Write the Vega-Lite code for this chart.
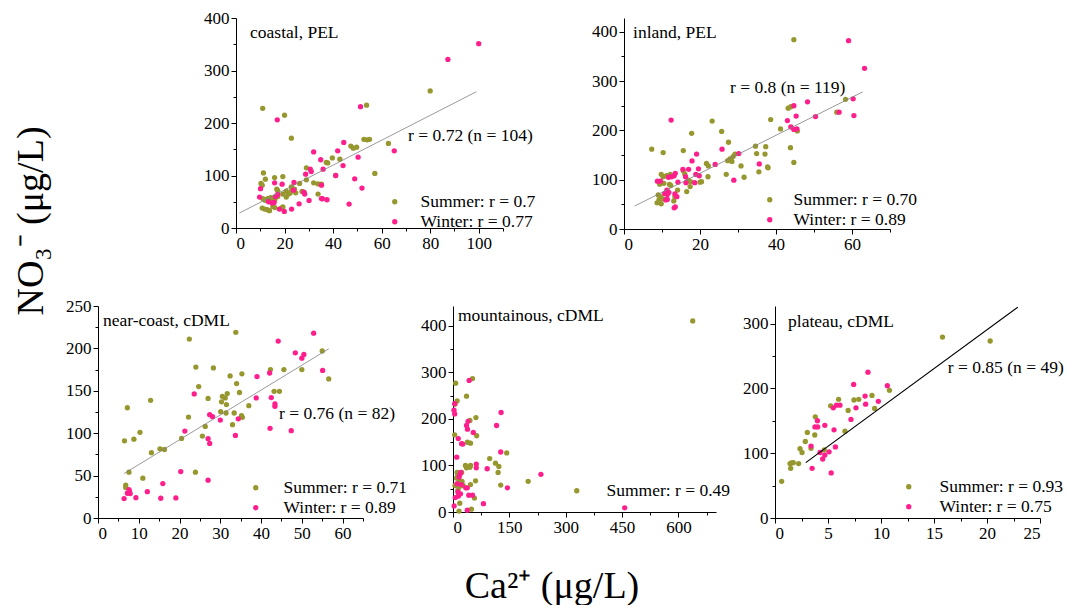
{
  "$schema": "https://vega.github.io/schema/vega-lite/v6.json",
  "padding": {"left": 12, "top": 9, "right": 0, "bottom": 0},
  "title": {"text": "NO₃⁻ (μg/L)", "orient": "left", "anchor": "middle", "font": "Liberation Serif", "fontSize": 38, "fontWeight": "normal", "color": "#000", "offset": 15, "dx": 86},
  "config": {
    "view": {"stroke": null},
    "font": "Liberation Serif",
    "axis": {"domainColor": "#000", "domainWidth": 1, "tickColor": "#000", "tickWidth": 1, "labelColor": "#000", "labelFont": "Liberation Serif", "labelFontSize": 17, "labelPadding": 2, "grid": false, "labelOverlap": false, "titleFont": "Liberation Serif", "titleFontWeight": "normal", "titleColor": "#000"},
    "legend": {"labelFont": "Liberation Serif", "labelFontSize": 17.5, "labelColor": "#000", "symbolType": "circle", "symbolSize": 28, "symbolStrokeWidth": 0, "rowPadding": 1, "padding": 0},
    "text": {"font": "Liberation Serif", "fontSize": 17.5, "color": "#000", "align": "left", "baseline": "middle"}
  },
  "datasets": {
    "coastal": [
      {"season":"Summer","ca":11,"no3":228},{"season":"Summer","ca":20,"no3":215},{"season":"Summer","ca":22.8,"no3":171},{"season":"Summer","ca":80,"no3":261},{"season":"Summer","ca":53.8,"no3":234},{"season":"Summer","ca":52.7,"no3":169},{"season":"Summer","ca":54,"no3":168},{"season":"Summer","ca":55,"no3":169},{"season":"Summer","ca":62.8,"no3":161},{"season":"Summer","ca":47.3,"no3":156},{"season":"Summer","ca":48.3,"no3":152},{"season":"Summer","ca":49.7,"no3":154},{"season":"Summer","ca":39.7,"no3":133.5},{"season":"Summer","ca":42.8,"no3":131},{"season":"Summer","ca":37.2,"no3":125},{"season":"Summer","ca":37.8,"no3":124},{"season":"Summer","ca":29,"no3":114.6},{"season":"Summer","ca":57.2,"no3":104},{"season":"Summer","ca":41,"no3":100},{"season":"Summer","ca":33.8,"no3":84},{"season":"Summer","ca":35.2,"no3":83.5},{"season":"Summer","ca":32,"no3":86},{"season":"Summer","ca":33.8,"no3":64.6},{"season":"Summer","ca":29,"no3":91.8},{"season":"Summer","ca":26.2,"no3":85},{"season":"Summer","ca":11.3,"no3":105},{"season":"Summer","ca":12.1,"no3":93},{"season":"Summer","ca":10.3,"no3":85},{"season":"Summer","ca":10.8,"no3":81.6},{"season":"Summer","ca":15.9,"no3":96},{"season":"Summer","ca":19.3,"no3":98},{"season":"Summer","ca":16.8,"no3":74},{"season":"Summer","ca":17.2,"no3":71},{"season":"Summer","ca":20.7,"no3":70},{"season":"Summer","ca":21.6,"no3":64.6},{"season":"Summer","ca":22.3,"no3":66.5},{"season":"Summer","ca":22.9,"no3":71.5},{"season":"Summer","ca":24.1,"no3":74},{"season":"Summer","ca":22.8,"no3":78.5},{"season":"Summer","ca":19.3,"no3":64.6},{"season":"Summer","ca":20.7,"no3":59},{"season":"Summer","ca":24.6,"no3":67},{"season":"Summer","ca":27.2,"no3":69.6},{"season":"Summer","ca":28.1,"no3":67.7},{"season":"Summer","ca":11,"no3":56},{"season":"Summer","ca":12,"no3":53},{"season":"Summer","ca":13,"no3":55},{"season":"Summer","ca":14,"no3":54},{"season":"Summer","ca":15,"no3":57},{"season":"Summer","ca":15.7,"no3":58},{"season":"Summer","ca":14.2,"no3":58},{"season":"Summer","ca":13.1,"no3":56},{"season":"Summer","ca":12.4,"no3":53.5},{"season":"Summer","ca":10.8,"no3":38},{"season":"Summer","ca":11.8,"no3":36},{"season":"Summer","ca":12.9,"no3":35},{"season":"Summer","ca":13.8,"no3":33},{"season":"Summer","ca":15.2,"no3":41},{"season":"Summer","ca":16,"no3":39},{"season":"Summer","ca":18.6,"no3":38},{"season":"Summer","ca":19.3,"no3":40},{"season":"Summer","ca":16,"no3":54},{"season":"Summer","ca":17.2,"no3":60},
      {"season":"Winter","ca":100,"no3":351},{"season":"Winter","ca":87.3,"no3":321},{"season":"Winter","ca":51.3,"no3":231},{"season":"Winter","ca":17,"no3":206},{"season":"Winter","ca":65.2,"no3":147},{"season":"Winter","ca":44.4,"no3":163},{"season":"Winter","ca":41.9,"no3":147},{"season":"Winter","ca":32,"no3":145},{"season":"Winter","ca":50.3,"no3":135},{"season":"Winter","ca":44.1,"no3":119},{"season":"Winter","ca":34.9,"no3":130},{"season":"Winter","ca":30.6,"no3":112},{"season":"Winter","ca":31,"no3":107.6},{"season":"Winter","ca":28.7,"no3":102.5},{"season":"Winter","ca":35.9,"no3":112},{"season":"Winter","ca":41.1,"no3":100},{"season":"Winter","ca":48.9,"no3":93.7},{"season":"Winter","ca":51.9,"no3":76},{"season":"Winter","ca":46.6,"no3":45.6},{"season":"Winter","ca":37.5,"no3":53.8},{"season":"Winter","ca":35.2,"no3":56},{"season":"Winter","ca":35.6,"no3":55.7},{"season":"Winter","ca":30.1,"no3":52.5},{"season":"Winter","ca":26,"no3":46},{"season":"Winter","ca":22.9,"no3":36},{"season":"Winter","ca":19.9,"no3":31.6},{"season":"Winter","ca":17.9,"no3":36},{"season":"Winter","ca":15.7,"no3":48.7},{"season":"Winter","ca":13.4,"no3":50},{"season":"Winter","ca":14.9,"no3":47.5},{"season":"Winter","ca":9.7,"no3":58.9},{"season":"Winter","ca":10.1,"no3":75},{"season":"Winter","ca":15.9,"no3":86},{"season":"Winter","ca":19,"no3":83.5},{"season":"Winter","ca":23.9,"no3":86.7},{"season":"Winter","ca":17.2,"no3":64},{"season":"Winter","ca":23.7,"no3":72},{"season":"Winter","ca":27.9,"no3":68.4},{"season":"Winter","ca":28.3,"no3":64.6},{"season":"Winter","ca":35.2,"no3":81.6},{"season":"Winter","ca":16.3,"no3":60}
    ],
    "inland": [
      {"season":"Summer","ca":44.7,"no3":384},{"season":"Summer","ca":58.3,"no3":263},{"season":"Summer","ca":56,"no3":237},{"season":"Summer","ca":43.2,"no3":245},{"season":"Summer","ca":43.9,"no3":248},{"season":"Summer","ca":38.6,"no3":222},{"season":"Summer","ca":41.2,"no3":203},{"season":"Summer","ca":45.6,"no3":199},{"season":"Summer","ca":43.8,"no3":165},{"season":"Summer","ca":44.7,"no3":135},{"season":"Summer","ca":37.3,"no3":167},{"season":"Summer","ca":34.6,"no3":168},{"season":"Summer","ca":34.9,"no3":153},{"season":"Summer","ca":37.1,"no3":152},{"season":"Summer","ca":35.5,"no3":116},{"season":"Summer","ca":37.8,"no3":126},{"season":"Summer","ca":37.9,"no3":124},{"season":"Summer","ca":23.2,"no3":219},{"season":"Summer","ca":25.7,"no3":198},{"season":"Summer","ca":17.8,"no3":194},{"season":"Summer","ca":27.5,"no3":176},{"season":"Summer","ca":7.3,"no3":162},{"season":"Summer","ca":10.3,"no3":155},{"season":"Summer","ca":15.6,"no3":159},{"season":"Summer","ca":29.2,"no3":152},{"season":"Summer","ca":28.7,"no3":147},{"season":"Summer","ca":27.3,"no3":138.5},{"season":"Summer","ca":28.4,"no3":137},{"season":"Summer","ca":27.9,"no3":142},{"season":"Summer","ca":30.8,"no3":128},{"season":"Summer","ca":21.7,"no3":133},{"season":"Summer","ca":22.2,"no3":128},{"season":"Summer","ca":31.6,"no3":105},{"season":"Summer","ca":26.9,"no3":111},{"season":"Summer","ca":22.1,"no3":106},{"season":"Summer","ca":20,"no3":95},{"season":"Summer","ca":20.4,"no3":96},{"season":"Summer","ca":15.6,"no3":118},{"season":"Summer","ca":16,"no3":111.5},{"season":"Summer","ca":16.9,"no3":99},{"season":"Summer","ca":17.5,"no3":96},{"season":"Summer","ca":16.5,"no3":76},{"season":"Summer","ca":17.4,"no3":86},{"season":"Summer","ca":14.1,"no3":79},{"season":"Summer","ca":9.8,"no3":111},{"season":"Summer","ca":10.3,"no3":106},{"season":"Summer","ca":11.2,"no3":108},{"season":"Summer","ca":12.2,"no3":111},{"season":"Summer","ca":9.4,"no3":91},{"season":"Summer","ca":10.5,"no3":92.6},{"season":"Summer","ca":12,"no3":90.5},{"season":"Summer","ca":12.3,"no3":88.5},{"season":"Summer","ca":9,"no3":69},{"season":"Summer","ca":9.6,"no3":65.5},{"season":"Summer","ca":10.3,"no3":61},{"season":"Summer","ca":9.2,"no3":59},{"season":"Summer","ca":8.7,"no3":53},{"season":"Summer","ca":9.8,"no3":51},{"season":"Summer","ca":11.2,"no3":76},{"season":"Summer","ca":13.1,"no3":57},{"season":"Summer","ca":13.4,"no3":65.5},
      {"season":"Winter","ca":59.1,"no3":382},{"season":"Winter","ca":63.3,"no3":326},{"season":"Winter","ca":60.3,"no3":264},{"season":"Winter","ca":60.5,"no3":230},{"season":"Winter","ca":56.6,"no3":237},{"season":"Winter","ca":50.4,"no3":228},{"season":"Winter","ca":48.3,"no3":258},{"season":"Winter","ca":44.7,"no3":250},{"season":"Winter","ca":45.3,"no3":229},{"season":"Winter","ca":43,"no3":220},{"season":"Winter","ca":43.9,"no3":207},{"season":"Winter","ca":44.7,"no3":202},{"season":"Winter","ca":45.5,"no3":203},{"season":"Winter","ca":35.6,"no3":132},{"season":"Winter","ca":30.2,"no3":153},{"season":"Winter","ca":25.8,"no3":162},{"season":"Winter","ca":24,"no3":131},{"season":"Winter","ca":28.9,"no3":99},{"season":"Winter","ca":19.1,"no3":152},{"season":"Winter","ca":17.9,"no3":138},{"season":"Winter","ca":12.4,"no3":221},{"season":"Winter","ca":19.6,"no3":122},{"season":"Winter","ca":17,"no3":121},{"season":"Winter","ca":18.9,"no3":111},{"season":"Winter","ca":19.8,"no3":108},{"season":"Winter","ca":15.5,"no3":121},{"season":"Winter","ca":16.2,"no3":106},{"season":"Winter","ca":13.5,"no3":113},{"season":"Winter","ca":13.2,"no3":108},{"season":"Winter","ca":11.7,"no3":105},{"season":"Winter","ca":12.5,"no3":106},{"season":"Winter","ca":8.8,"no3":97},{"season":"Winter","ca":9.6,"no3":97},{"season":"Winter","ca":14.2,"no3":95},{"season":"Winter","ca":16.3,"no3":94},{"season":"Winter","ca":18.6,"no3":94},{"season":"Winter","ca":11.3,"no3":79},{"season":"Winter","ca":11.8,"no3":74},{"season":"Winter","ca":11.4,"no3":60},{"season":"Winter","ca":11,"no3":59},{"season":"Winter","ca":10.7,"no3":72},{"season":"Winter","ca":11.4,"no3":70},{"season":"Winter","ca":13.4,"no3":71},{"season":"Winter","ca":13.9,"no3":65.5},{"season":"Winter","ca":13.5,"no3":45},{"season":"Winter","ca":13.2,"no3":43}
    ],
    "nearcoast": [
      {"season":"Summer","ca":33.8,"no3":219},{"season":"Summer","ca":22.4,"no3":211},{"season":"Summer","ca":55,"no3":197},{"season":"Summer","ca":56.6,"no3":164},{"season":"Summer","ca":50,"no3":175},{"season":"Summer","ca":45.6,"no3":175},{"season":"Summer","ca":42.3,"no3":175},{"season":"Summer","ca":35.3,"no3":170},{"season":"Summer","ca":32.4,"no3":167.6},{"season":"Summer","ca":34,"no3":158.5},{"season":"Summer","ca":28.3,"no3":177},{"season":"Summer","ca":24,"no3":178},{"season":"Summer","ca":24.7,"no3":155},{"season":"Summer","ca":43.2,"no3":149.4},{"season":"Summer","ca":44.5,"no3":149.4},{"season":"Summer","ca":34.7,"no3":148},{"season":"Summer","ca":31.7,"no3":146.7},{"season":"Summer","ca":30.5,"no3":143.5},{"season":"Summer","ca":31.2,"no3":141.6},{"season":"Summer","ca":27,"no3":141},{"season":"Summer","ca":31.5,"no3":133.7},{"season":"Summer","ca":30.3,"no3":137},{"season":"Summer","ca":37,"no3":132.5},{"season":"Summer","ca":30.1,"no3":125.4},{"season":"Summer","ca":31.4,"no3":123.8},{"season":"Summer","ca":33.4,"no3":123.8},{"season":"Summer","ca":35.2,"no3":120.7},{"season":"Summer","ca":35.4,"no3":118.7},{"season":"Summer","ca":33,"no3":110},{"season":"Summer","ca":26.3,"no3":108},{"season":"Summer","ca":22.2,"no3":119},{"season":"Summer","ca":25.6,"no3":96.6},{"season":"Summer","ca":20.5,"no3":93.8},{"season":"Summer","ca":12.9,"no3":138.8},{"season":"Summer","ca":7.2,"no3":130},{"season":"Summer","ca":10.3,"no3":101},{"season":"Summer","ca":8.8,"no3":93},{"season":"Summer","ca":6.5,"no3":91},{"season":"Summer","ca":13.1,"no3":77},{"season":"Summer","ca":15.2,"no3":81.6},{"season":"Summer","ca":16.3,"no3":80.8},{"season":"Summer","ca":7.6,"no3":54},{"season":"Summer","ca":11,"no3":47},{"season":"Summer","ca":23.9,"no3":54},{"season":"Summer","ca":6.8,"no3":38.6},{"season":"Summer","ca":6.8,"no3":35.9},
      {"season":"Winter","ca":52.9,"no3":218},{"season":"Winter","ca":44.2,"no3":208.6},{"season":"Winter","ca":48.4,"no3":194.8},{"season":"Winter","ca":50.5,"no3":192.8},{"season":"Winter","ca":50,"no3":188.5},{"season":"Winter","ca":55.1,"no3":174},{"season":"Winter","ca":42.1,"no3":171},{"season":"Winter","ca":39,"no3":166.8},{"season":"Winter","ca":42.5,"no3":142},{"season":"Winter","ca":38.8,"no3":141.6},{"season":"Winter","ca":43.4,"no3":134.5},{"season":"Winter","ca":43.4,"no3":131.7},{"season":"Winter","ca":23.6,"no3":146.3},{"season":"Winter","ca":27.4,"no3":121.8},{"season":"Winter","ca":28.1,"no3":119.5},{"season":"Winter","ca":30,"no3":115.5},{"season":"Winter","ca":34.4,"no3":117},{"season":"Winter","ca":42.2,"no3":105.7},{"season":"Winter","ca":47.4,"no3":103},{"season":"Winter","ca":21.3,"no3":102.5},{"season":"Winter","ca":33.7,"no3":97.4},{"season":"Winter","ca":27,"no3":93.5},{"season":"Winter","ca":27.4,"no3":88},{"season":"Winter","ca":20.3,"no3":54.8},{"season":"Winter","ca":27,"no3":44.6},{"season":"Winter","ca":15.9,"no3":40.6},{"season":"Winter","ca":12.1,"no3":31},{"season":"Winter","ca":7.6,"no3":33.5},{"season":"Winter","ca":7.7,"no3":31.5},{"season":"Winter","ca":7.9,"no3":28.8},{"season":"Winter","ca":7.2,"no3":29.2},{"season":"Winter","ca":6.4,"no3":22.9},{"season":"Winter","ca":9.3,"no3":24},{"season":"Winter","ca":15.4,"no3":23.3},{"season":"Winter","ca":19.1,"no3":23.7}
    ],
    "mountain": [
      {"season":"Summer","ca":638,"no3":411},{"season":"Summer","ca":200,"no3":66},{"season":"Summer","ca":143,"no3":127},{"season":"Summer","ca":97.6,"no3":115},{"season":"Summer","ca":113,"no3":105},{"season":"Summer","ca":122,"no3":98},{"season":"Summer","ca":120,"no3":85},{"season":"Summer","ca":127,"no3":58},{"season":"Summer","ca":7,"no3":277},{"season":"Summer","ca":11,"no3":239},{"season":"Summer","ca":5.4,"no3":232},{"season":"Summer","ca":52,"no3":287},{"season":"Summer","ca":36,"no3":249},{"season":"Summer","ca":61,"no3":203},{"season":"Summer","ca":45,"no3":197},{"season":"Summer","ca":63,"no3":164},{"season":"Summer","ca":4.5,"no3":166},{"season":"Summer","ca":38.5,"no3":150},{"season":"Summer","ca":46.6,"no3":148},{"season":"Summer","ca":33,"no3":100},{"season":"Summer","ca":46.6,"no3":100},{"season":"Summer","ca":45,"no3":96},{"season":"Summer","ca":36,"no3":95},{"season":"Summer","ca":60,"no3":67},{"season":"Summer","ca":46.6,"no3":59},{"season":"Summer","ca":57,"no3":30},{"season":"Summer","ca":18,"no3":19},{"season":"Summer","ca":16,"no3":2},{"season":"Summer","ca":49,"no3":6},{"season":"Summer","ca":9,"no3":73},{"season":"Summer","ca":13,"no3":79},{"season":"Summer","ca":11,"no3":85},{"season":"Summer","ca":16,"no3":70},{"season":"Summer","ca":24,"no3":66},{"season":"Summer","ca":20,"no3":61},{"season":"Summer","ca":16,"no3":54},{"season":"Summer","ca":13,"no3":46.6},{"season":"Summer","ca":5.4,"no3":57},{"season":"Summer","ca":23,"no3":85},{"season":"Summer","ca":27,"no3":57},
      {"season":"Winter","ca":457,"no3":9},{"season":"Winter","ca":234,"no3":81},{"season":"Winter","ca":128,"no3":214},{"season":"Winter","ca":116,"no3":186},{"season":"Winter","ca":127,"no3":129},{"season":"Winter","ca":145,"no3":52},{"season":"Winter","ca":91,"no3":93},{"season":"Winter","ca":81,"no3":18},{"season":"Winter","ca":43,"no3":283},{"season":"Winter","ca":4.5,"no3":233},{"season":"Winter","ca":2.7,"no3":219},{"season":"Winter","ca":4.5,"no3":211},{"season":"Winter","ca":14,"no3":158},{"season":"Winter","ca":10,"no3":118},{"season":"Winter","ca":23,"no3":147},{"season":"Winter","ca":26,"no3":146},{"season":"Winter","ca":36,"no3":186},{"season":"Winter","ca":40,"no3":195},{"season":"Winter","ca":38.5,"no3":178},{"season":"Winter","ca":54,"no3":171},{"season":"Winter","ca":62,"no3":103},{"season":"Winter","ca":62,"no3":95},{"season":"Winter","ca":18,"no3":80},{"season":"Winter","ca":20.6,"no3":85},{"season":"Winter","ca":22,"no3":59},{"season":"Winter","ca":34,"no3":52},{"season":"Winter","ca":38,"no3":52},{"season":"Winter","ca":42,"no3":36},{"season":"Winter","ca":52,"no3":36},{"season":"Winter","ca":13,"no3":43},{"season":"Winter","ca":6,"no3":31},{"season":"Winter","ca":3,"no3":13},{"season":"Winter","ca":14,"no3":34},{"season":"Winter","ca":20,"no3":39},{"season":"Winter","ca":38,"no3":4},{"season":"Winter","ca":11,"no3":61},{"season":"Winter","ca":16,"no3":75}
    ],
    "plateau": [
      {"season":"Summer","ca":15.8,"no3":279},{"season":"Summer","ca":20.3,"no3":273},{"season":"Summer","ca":10.8,"no3":197},{"season":"Summer","ca":9.15,"no3":189},{"season":"Summer","ca":9.4,"no3":169},{"season":"Summer","ca":7.45,"no3":182},{"season":"Summer","ca":7.9,"no3":183},{"season":"Summer","ca":6,"no3":183},{"season":"Summer","ca":5.25,"no3":173},{"season":"Summer","ca":6.9,"no3":166},{"season":"Summer","ca":6.6,"no3":134},{"season":"Summer","ca":3.8,"no3":156},{"season":"Summer","ca":3.75,"no3":128},{"season":"Summer","ca":3.05,"no3":132},{"season":"Summer","ca":2.86,"no3":118},{"season":"Summer","ca":2.36,"no3":107},{"season":"Summer","ca":2.55,"no3":101},{"season":"Summer","ca":3.4,"no3":107.6},{"season":"Summer","ca":4.65,"no3":105},{"season":"Summer","ca":2.23,"no3":84},{"season":"Summer","ca":1.42,"no3":84},{"season":"Summer","ca":1.54,"no3":85},{"season":"Summer","ca":1.73,"no3":85.4},{"season":"Summer","ca":1.48,"no3":76.7},{"season":"Summer","ca":0.63,"no3":56.6},
      {"season":"Winter","ca":8.77,"no3":225},{"season":"Winter","ca":7.42,"no3":206},{"season":"Winter","ca":10.6,"no3":204},{"season":"Winter","ca":9.75,"no3":180},{"season":"Winter","ca":8.5,"no3":188},{"season":"Winter","ca":8.55,"no3":175.5},{"season":"Winter","ca":7.64,"no3":170},{"season":"Winter","ca":7.17,"no3":152},{"season":"Winter","ca":5.8,"no3":174},{"season":"Winter","ca":6.13,"no3":174},{"season":"Winter","ca":5.5,"no3":170},{"season":"Winter","ca":4,"no3":150},{"season":"Winter","ca":3.77,"no3":140.5},{"season":"Winter","ca":4.03,"no3":140.5},{"season":"Winter","ca":4.7,"no3":143},{"season":"Winter","ca":5.57,"no3":136},{"season":"Winter","ca":3.4,"no3":111},{"season":"Winter","ca":5.7,"no3":109.6},{"season":"Winter","ca":4.25,"no3":101},{"season":"Winter","ca":4.7,"no3":97},{"season":"Winter","ca":5.1,"no3":102},{"season":"Winter","ca":4.5,"no3":91},{"season":"Winter","ca":3.5,"no3":76.7},{"season":"Winter","ca":5.3,"no3":69.5}
    ]
  },
  "spacing": 45,
  "resolve": {"scale": {"color": "independent"}, "legend": {"color": "independent"}},
  "vconcat": [
    {
      "bounds": "flush",
      "spacing": 0,
      "resolve": {"scale": {"color": "independent"}, "legend": {"color": "independent"}},
      "hconcat": [
        {"width": 138, "height": 10, "data": {"values": []}, "mark": "point"},
        {
          "width": 267, "height": 210,
          "encoding": {
            "x": {"field": "ca", "type": "quantitative", "title": null, "scale": {"domain": [0, 110], "nice": false, "zero": false}, "axis": {"values": [0,10,20,30,40,50,60,70,80,90,100,110], "labelExpr": "datum.value % 20 === 0 ? datum.label : ''", "tickSize": {"condition": {"test": "datum.value % 20 === 0", "value": 5}, "value": 3}}},
            "y": {"field": "no3", "type": "quantitative", "title": null, "scale": {"domain": [0, 400], "nice": false, "zero": false}, "axis": {"values": [0,50,100,150,200,250,300,350,400], "labelExpr": "datum.value % 100 === 0 ? datum.label : ''", "tickSize": {"condition": {"test": "datum.value % 100 === 0", "value": 5}, "value": 3}}}
          },
          "layer": [
            {"data": {"name": "coastal"}, "mark": {"type": "circle", "size": 28, "opacity": 1},
             "encoding": {"color": {"field": "season", "type": "nominal", "scale": {"domain": ["Summer", "Winter"], "range": ["#97972F", "#FF1F8C"]}, "legend": {"title": null, "orient": "none", "legendX": 150, "legendY": 175, "labelOffset": 17, "labelFontSize": 17.5, "labelFont": "Liberation Serif", "labelExpr": "datum.label === 'Summer' ? 'Summer: r = 0.7' : 'Winter: r = 0.77'"}}}},
            {"data": {"values": [{"ca": 1.4, "no3": 28.5, "ca2": 99, "no3_2": 259.5}]}, "mark": {"type": "rule", "color": "#808080", "strokeWidth": 0.8},
             "encoding": {"x2": {"field": "ca2"}, "y2": {"field": "no3_2"}}},
            {"data": {"values": [{"ca": 70.9, "no3": 175, "label": "r = 0.72 (n = 104)"}, {"ca": 5.8, "no3": 371, "label": "coastal, PEL"}]}, "mark": {"type": "text", "align": "left", "baseline": "middle", "fontSize": 17.5, "font": "Liberation Serif", "color": "#000"},
             "encoding": {"text": {"field": "label"}}}
          ]
        },
        {"width": 121, "height": 10, "data": {"values": []}, "mark": "point"},
        {
          "width": 266, "height": 211,
          "encoding": {
            "x": {"field": "ca", "type": "quantitative", "title": null, "scale": {"domain": [0, 70], "nice": false, "zero": false}, "axis": {"values": [0,10,20,30,40,50,60,70], "labelExpr": "datum.value % 20 === 0 ? datum.label : ''", "tickSize": {"condition": {"test": "datum.value % 20 === 0", "value": 5}, "value": 3}}},
            "y": {"field": "no3", "type": "quantitative", "title": null, "scale": {"domain": [0, 428], "nice": false, "zero": false}, "axis": {"values": [0,50,100,150,200,250,300,350,400], "labelExpr": "datum.value % 100 === 0 ? datum.label : ''", "tickSize": {"condition": {"test": "datum.value % 100 === 0", "value": 5}, "value": 3}}}
          },
          "layer": [
            {"data": {"name": "inland"}, "mark": {"type": "circle", "size": 28, "opacity": 1},
             "encoding": {"color": {"field": "season", "type": "nominal", "scale": {"domain": ["Summer", "Winter"], "range": ["#97972F", "#FF1F8C"]}, "legend": {"title": null, "orient": "none", "legendX": 137, "legendY": 173, "labelOffset": 15, "labelFontSize": 17.5, "labelFont": "Liberation Serif", "labelExpr": "datum.label === 'Summer' ? 'Summer: r = 0.70' : 'Winter: r = 0.89'"}}}},
            {"data": {"values": [{"ca": 2.8, "no3": 46.6, "ca2": 62.8, "no3_2": 278}]}, "mark": {"type": "rule", "color": "#808080", "strokeWidth": 0.8},
             "encoding": {"x2": {"field": "ca2"}, "y2": {"field": "no3_2"}}},
            {"data": {"values": [{"ca": 27.9, "no3": 286, "label": "r = 0.8 (n = 119)"}, {"ca": 2.4, "no3": 398, "label": "inland, PEL"}]}, "mark": {"type": "text", "align": "left", "baseline": "middle", "fontSize": 17.5, "font": "Liberation Serif", "color": "#000"},
             "encoding": {"text": {"field": "label"}}}
          ]
        }
      ]
    },
    {
      "bounds": "flush",
      "spacing": 0,
      "resolve": {"scale": {"color": "independent"}, "legend": {"color": "independent"}},
      "hconcat": [
        {
          "width": 265, "height": 212,
          "encoding": {
            "x": {"field": "ca", "type": "quantitative", "title": null, "scale": {"domain": [0, 65], "nice": false, "zero": false}, "axis": {"values": [0,5,10,15,20,25,30,35,40,45,50,55,60,65], "labelExpr": "datum.value % 10 === 0 ? datum.label : ''", "tickSize": {"condition": {"test": "datum.value % 10 === 0", "value": 5}, "value": 3}}},
            "y": {"field": "no3", "type": "quantitative", "title": null, "scale": {"domain": [0, 250], "nice": false, "zero": false}, "axis": {"values": [0,25,50,75,100,125,150,175,200,225,250], "labelExpr": "datum.value % 50 === 0 ? datum.label : ''", "tickSize": {"condition": {"test": "datum.value % 50 === 0", "value": 5}, "value": 3}}}
          },
          "layer": [
            {"data": {"name": "nearcoast"}, "mark": {"type": "circle", "size": 28, "opacity": 1},
             "encoding": {"color": {"field": "season", "type": "nominal", "scale": {"domain": ["Summer", "Winter"], "range": ["#97972F", "#FF1F8C"]}, "legend": {"title": null, "orient": "none", "legendX": 149, "legendY": 173, "labelOffset": 19, "labelFontSize": 17.5, "labelFont": "Liberation Serif", "labelExpr": "datum.label === 'Summer' ? 'Summer: r = 0.71' : 'Winter: r = 0.89'"}}}},
            {"data": {"values": [{"ca": 6.4, "no3": 52.4, "ca2": 56.6, "no3_2": 199.5}]}, "mark": {"type": "rule", "color": "#808080", "strokeWidth": 0.8},
             "encoding": {"x2": {"field": "ca2"}, "y2": {"field": "no3_2"}}},
            {"data": {"values": [{"ca": 44.4, "no3": 122.6, "label": "r = 0.76 (n = 82)"}, {"ca": 1.2, "no3": 232, "label": "near-coast, cDML"}]}, "mark": {"type": "text", "align": "left", "baseline": "middle", "fontSize": 17.5, "font": "Liberation Serif", "color": "#000"},
             "encoding": {"text": {"field": "label"}}}
          ]
        },
        {"width": 90, "height": 10, "data": {"values": []}, "mark": "point"},
        {
          "width": 263, "height": 206,
          "encoding": {
            "x": {"field": "ca", "type": "quantitative", "scale": {"domain": [0, 700], "nice": false, "zero": false}, "axis": {"values": [0,75,150,225,300,375,450,525,600,675], "labelExpr": "datum.value % 150 === 0 ? datum.label : ''", "tickSize": {"condition": {"test": "datum.value % 150 === 0", "value": 5}, "value": 3}, "title": "Ca²⁺ (μg/L)", "titleFontSize": 38, "titleX": 98.5, "titleY": 85, "titleAngle": 0, "titleAlign": "center", "titleBaseline": "alphabetic"}},
            "y": {"field": "no3", "type": "quantitative", "title": null, "scale": {"domain": [0, 443], "nice": false, "zero": false}, "axis": {"values": [0,50,100,150,200,250,300,350,400], "labelExpr": "datum.value % 100 === 0 ? datum.label : ''", "tickSize": {"condition": {"test": "datum.value % 100 === 0", "value": 5}, "value": 3}}}
          },
          "layer": [
            {"data": {"name": "mountain"}, "mark": {"type": "circle", "size": 28, "opacity": 1},
             "encoding": {"color": {"field": "season", "type": "nominal", "scale": {"domain": ["Summer", "Winter"], "range": ["#97972F", "#FF1F8C"]}, "legend": {"title": null, "orient": "none", "legendX": 115, "legendY": 176, "labelOffset": 21, "labelFontSize": 17.5, "labelFont": "Liberation Serif", "values": ["Summer"], "labelExpr": "'Summer: r = 0.49'"}}}},
            {"data": {"values": [{"ca": 13, "no3": 421.5, "label": "mountainous, cDML"}]}, "mark": {"type": "text", "align": "left", "baseline": "middle", "fontSize": 17.5, "font": "Liberation Serif", "color": "#000"},
             "encoding": {"text": {"field": "label"}}}
          ]
        },
        {"width": 59, "height": 10, "data": {"values": []}, "mark": "point"},
        {
          "width": 265, "height": 212,
          "encoding": {
            "x": {"field": "ca", "type": "quantitative", "title": null, "scale": {"domain": [0, 25], "nice": false, "zero": false}, "axis": {"values": [0,2.5,5,7.5,10,12.5,15,17.5,20,22.5,25], "labelExpr": "datum.value % 5 === 0 ? datum.label : ''", "tickSize": {"condition": {"test": "datum.value % 5 === 0", "value": 5}, "value": 3}}},
            "y": {"field": "no3", "type": "quantitative", "title": null, "scale": {"domain": [0, 327], "nice": false, "zero": false}, "axis": {"values": [0,50,100,150,200,250,300], "labelExpr": "datum.value % 100 === 0 ? datum.label : ''", "tickSize": {"condition": {"test": "datum.value % 100 === 0", "value": 5}, "value": 3}}}
          },
          "layer": [
            {"data": {"name": "plateau"}, "mark": {"type": "circle", "size": 28, "opacity": 1},
             "encoding": {"color": {"field": "season", "type": "nominal", "scale": {"domain": ["Summer", "Winter"], "range": ["#97972F", "#FF1F8C"]}, "legend": {"title": null, "orient": "none", "legendX": 125, "legendY": 172, "labelOffset": 22, "labelFontSize": 17.5, "labelFont": "Liberation Serif", "labelExpr": "datum.label === 'Summer' ? 'Summer: r = 0.93' : 'Winter: r = 0.75'"}}}},
            {"data": {"values": [{"ca": 2.9, "no3": 85.4, "ca2": 22.9, "no3_2": 325}]}, "mark": {"type": "rule", "color": "#000000", "strokeWidth": 1.2},
             "encoding": {"x2": {"field": "ca2"}, "y2": {"field": "no3_2"}}},
            {"data": {"values": [{"ca": 16.3, "no3": 231, "label": "r = 0.85 (n = 49)"}, {"ca": 1.23, "no3": 302, "label": "plateau, cDML"}]}, "mark": {"type": "text", "align": "left", "baseline": "middle", "fontSize": 17.5, "font": "Liberation Serif", "color": "#000"},
             "encoding": {"text": {"field": "label"}}}
          ]
        }
      ]
    }
  ]
}
